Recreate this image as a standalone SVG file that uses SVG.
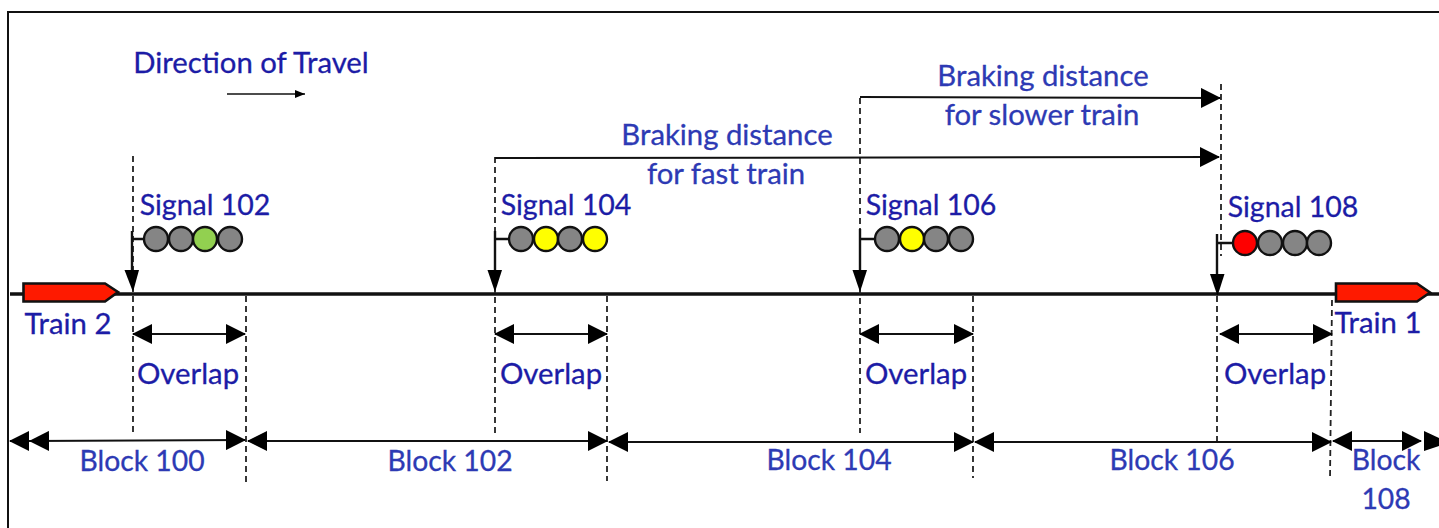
<svg xmlns="http://www.w3.org/2000/svg" width="1439" height="528" viewBox="0 0 1439 528">
<style>
text{font-family:"Lato","Open Sans",sans-serif;font-size:29.300px;text-anchor:middle;stroke-width:.3}
.d{fill:#1c1ca6;stroke:#1c1ca6}.b{fill:#2d3ab4;stroke:#2d3ab4}
.s{font-size:28.500px}.k{font-size:28.300px}
.dash{stroke:#222;stroke-width:1.8;stroke-dasharray:6 4;fill:none}
.ln{stroke:#111;stroke-width:2;fill:none}
.post{stroke:#111;stroke-width:2.400;fill:none}
.ah{fill:#000}
.lamp{stroke:#111;stroke-width:2.400}
.off{fill:#858585}.y{fill:#ffff00}.g{fill:#92d050}.r{fill:#fe0000}
.train{fill:#fe1a00;stroke:#111;stroke-width:2.600}
</style>
<defs>
<marker id="e" viewBox="0 0 20 20" refX="19" refY="10" markerWidth="20" markerHeight="20" markerUnits="userSpaceOnUse" orient="auto-start-reverse"><path class="ah" d="M0 0L20 10L0 20Z"/></marker>
<marker id="sm" viewBox="0 0 10 8" refX="10" refY="4" markerWidth="10" markerHeight="8" markerUnits="userSpaceOnUse" orient="auto"><path class="ah" d="M0 0L10 4L0 8Z"/></marker>
</defs>
<rect x="8" y="12" width="1440" height="530" fill="#fff" stroke="#111" stroke-width="2"/>
<path d="M10 294H1439" stroke="#111" stroke-width="3.600"/>
<g id="connectors">
<path class="dash" d="M133 156V433M246 296V482M495 157V433M607 296V481M860 98V433M973 296V478M1221 84V256M1217 296V442M1332 300L1330 480"/>
<path class="ln" marker-end="url(#sm)" d="M227 94H305" style="stroke-width:1.500"/>
<path class="ln" marker-end="url(#e)" d="M860 97L1220 98"/>
<path class="ln" marker-end="url(#e)" d="M495 158L1219 157"/>
<g>
<path class="ln" marker-start="url(#e)" marker-end="url(#e)" d="M133 334H245"/>
<path class="ln" marker-start="url(#e)" marker-end="url(#e)" d="M495 334H607"/>
<path class="ln" marker-start="url(#e)" marker-end="url(#e)" d="M860 334H973"/>
<path class="ln" marker-start="url(#e)" marker-end="url(#e)" d="M1220 334H1332"/>
</g>
<g>
<path class="ln" marker-start="url(#e)" marker-end="url(#e)" d="M30 441L245 440"/>
<path class="ln" marker-start="url(#e)" d="M10 441H30"/>
<path class="ln" marker-start="url(#e)" marker-end="url(#e)" d="M248 441H607"/>
<path class="ln" marker-start="url(#e)" marker-end="url(#e)" d="M609 442H973"/>
<path class="ln" marker-start="url(#e)" marker-end="url(#e)" d="M975 442H1331"/>
<path class="ln" marker-start="url(#e)" marker-end="url(#e)" d="M1333 441H1421"/>
<path class="ah" d="M1424 431L1439 438V446L1424 451Z"/>
</g>
</g>
<g id="signal-102">
<path class="post" d="M132 231V272M132 239H145"/><path class="ah" d="M124.500 270H139L133 292Z"/>
<circle class="lamp off" cx="156" cy="239" r="12"/><circle class="lamp off" cx="181" cy="239" r="12"/><circle class="lamp g" cx="205" cy="239" r="12"/><circle class="lamp off" cx="230" cy="239" r="12"/>
<text class="d s" x="205" y="215">Signal 102</text>
</g>
<g id="signal-104">
<path class="post" d="M495 231V272M495 239H510"/><path class="ah" d="M487.500 270H502L495 292Z"/>
<circle class="lamp off" cx="521" cy="239" r="12"/><circle class="lamp y" cx="546" cy="239" r="12"/><circle class="lamp off" cx="570" cy="239" r="12"/><circle class="lamp y" cx="595" cy="239" r="12"/>
<text class="d s" x="566" y="215">Signal 104</text>
</g>
<g id="signal-106">
<path class="post" d="M860 229V272M860 239H875"/><path class="ah" d="M852.500 270H867L860 292Z"/>
<circle class="lamp off" cx="887" cy="239" r="12"/><circle class="lamp y" cx="912" cy="239" r="12"/><circle class="lamp off" cx="936" cy="239" r="12"/><circle class="lamp off" cx="961" cy="239" r="12"/>
<text class="d s" x="931" y="215">Signal 106</text>
</g>
<g id="signal-108">
<path class="post" d="M1217 234V275M1217 243H1233"/><path class="ah" d="M1210 274H1224.500L1217.500 296Z"/>
<circle class="lamp r" cx="1245" cy="243" r="12"/><circle class="lamp off" cx="1270" cy="243" r="12"/><circle class="lamp off" cx="1295" cy="243" r="12"/><circle class="lamp off" cx="1319" cy="243" r="12"/>
<text class="d s" x="1293" y="217">Signal 108</text>
</g>
<g id="train-2">
<path class="train" d="M23.500 283.500H105L118 292L105 301.500H23.500Z"/>
<text class="d" x="68" y="334">Train 2</text>
</g>
<g id="train-1">
<path class="train" d="M1336 283.500H1417L1430 292.500L1417 301.500H1336Z"/>
<text class="d" x="1378" y="333">Train 1</text>
</g>
<g id="labels">
<text class="d" x="251" y="73">Direction of Travel</text>
<text class="b" x="1043" y="86">Braking distance</text>
<text class="b" x="1042" y="125">for slower train</text>
<text class="b" x="727" y="145">Braking distance</text>
<text class="b" x="726" y="184">for fast train</text>
<text class="d" x="188" y="384">Overlap</text>
<text class="d" x="551" y="384">Overlap</text>
<text class="d" x="916" y="384">Overlap</text>
<text class="d" x="1275" y="384">Overlap</text>
<text class="b k" x="142" y="471">Block 100</text>
<text class="b k" x="450" y="471">Block 102</text>
<text class="b k" x="829" y="470">Block 104</text>
<text class="b k" x="1172" y="470">Block 106</text>
<text class="b k" x="1386" y="470">Block</text>
<text class="b k" x="1386" y="509">108</text>
</g>
</svg>
